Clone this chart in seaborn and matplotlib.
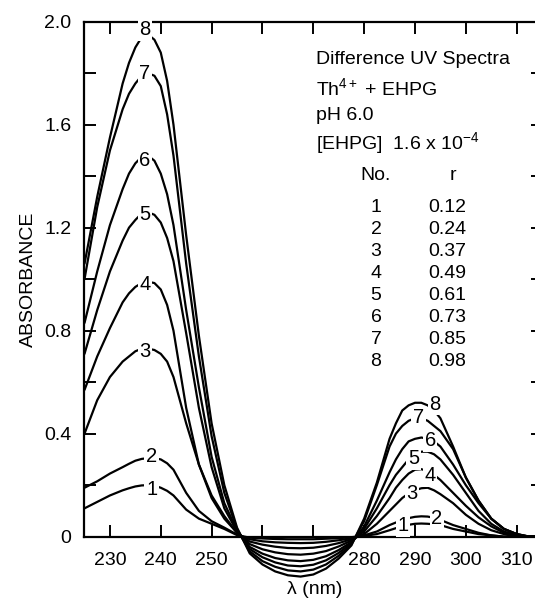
import numpy as np
import pandas as pd
import seaborn as sns
import matplotlib.pyplot as plt
from matplotlib.ticker import FixedLocator, FixedFormatter

# -------------------------------
# Data
# -------------------------------
wavelength = [225, 227.5, 230, 232.5,
              233.75, 235, 236.25, 237.5, 238.75, 240, 241.25, 242.5,
              245, 247.5, 250, 252.5, 255, 257.5, 260, 262.5, 265, 267.5,
              270, 272.5, 275, 277.5, 280, 282.5, 285,
              286.25, 287.5, 288.75, 290, 291.25, 292.5, 293.75, 295,
              297.5, 300, 302.5, 305, 307.5, 310, 312.5, 315]

curve_1 = [0.11, 0.135, 0.16, 0.18,
           0.188, 0.195, 0.199, 0.20, 0.198, 0.19, 0.178, 0.16,
           0.105, 0.07, 0.05, 0.03, 0.006, -0.004, -0.007, -0.009, -0.010, -0.010,
           -0.010, -0.008, -0.006, -0.002, 0.003, 0.01, 0.025,
           0.033, 0.04, 0.046, 0.05, 0.051, 0.05, 0.048, 0.045,
           0.03, 0.02, 0.01, 0.005, 0.0, 0.0, 0.0, 0.0]
curve_2 = [0.19, 0.215, 0.245, 0.27,
           0.283, 0.295, 0.302, 0.305, 0.305, 0.30, 0.285, 0.26,
           0.17, 0.10, 0.06, 0.035, 0.008, -0.010, -0.018, -0.022, -0.024, -0.025,
           -0.024, -0.020, -0.014, -0.006, 0.005, 0.02, 0.045,
           0.055, 0.065, 0.072, 0.077, 0.079, 0.078, 0.073, 0.065,
           0.045, 0.03, 0.015, 0.005, 0.0, 0.0, 0.0, 0.0]
curve_3 = [0.40, 0.53, 0.62, 0.68,
           0.70, 0.72, 0.73, 0.73, 0.725, 0.71, 0.68, 0.62,
           0.44, 0.28, 0.16, 0.08, 0.015, -0.019, -0.031, -0.039, -0.044, -0.045,
           -0.043, -0.036, -0.025, -0.010, 0.01, 0.05, 0.10,
           0.125, 0.15, 0.168, 0.18, 0.188, 0.19, 0.18, 0.165,
           0.13, 0.085, 0.05, 0.025, 0.01, 0.0, 0.0, 0.0]
curve_4 = [0.57, 0.70, 0.81, 0.91,
           0.945, 0.97, 0.985, 0.99, 0.985, 0.96, 0.90, 0.80,
           0.50, 0.28, 0.15, 0.07, 0.015, -0.029, -0.049, -0.061, -0.068, -0.070,
           -0.066, -0.056, -0.038, -0.015, 0.02, 0.08, 0.15,
           0.19, 0.22, 0.245, 0.26, 0.262, 0.255, 0.24, 0.22,
           0.17, 0.12, 0.075, 0.04, 0.015, 0.005, 0.0, 0.0]
curve_5 = [0.71, 0.88, 1.03, 1.15,
           1.20, 1.23, 1.255, 1.26, 1.25, 1.22, 1.16, 1.07,
           0.79, 0.50, 0.27, 0.11, 0.02, -0.040, -0.066, -0.083, -0.092, -0.095,
           -0.090, -0.076, -0.052, -0.021, 0.03, 0.11, 0.20,
           0.24, 0.27, 0.30, 0.32, 0.33, 0.33, 0.32, 0.30,
           0.24, 0.17, 0.10, 0.05, 0.02, 0.005, 0.0, 0.0]
curve_6 = [0.83, 1.03, 1.21, 1.35,
           1.41, 1.45, 1.475, 1.48, 1.46, 1.41, 1.33, 1.21,
           0.88, 0.58, 0.31, 0.13, 0.025, -0.048, -0.080, -0.100, -0.112, -0.115,
           -0.109, -0.092, -0.063, -0.025, 0.04, 0.14, 0.25,
           0.30, 0.34, 0.37, 0.38, 0.385, 0.38, 0.37, 0.35,
           0.28, 0.20, 0.13, 0.07, 0.03, 0.01, 0.0, 0.0]
curve_7 = [1.00, 1.28, 1.50, 1.66,
           1.72, 1.76, 1.79, 1.80, 1.79, 1.75, 1.64, 1.48,
           1.06, 0.70, 0.39, 0.17, 0.03, -0.057, -0.095, -0.117, -0.131, -0.135,
           -0.128, -0.108, -0.074, -0.030, 0.06, 0.20, 0.35,
           0.40, 0.43, 0.45, 0.46, 0.46, 0.45, 0.43, 0.41,
           0.34, 0.23, 0.14, 0.07, 0.03, 0.01, 0.0, 0.0]
curve_8 = [1.06, 1.32, 1.55, 1.76,
           1.84, 1.90, 1.94, 1.95, 1.93, 1.88, 1.77, 1.60,
           1.17, 0.78, 0.44, 0.20, 0.035, -0.065, -0.108, -0.135, -0.150, -0.155,
           -0.147, -0.124, -0.085, -0.034, 0.07, 0.21, 0.38,
           0.44, 0.49, 0.51, 0.52, 0.52, 0.51, 0.49, 0.46,
           0.35, 0.23, 0.14, 0.07, 0.03, 0.01, 0.0, 0.0]

curve_no = ["1", "2", "3", "4", "5", "6", "7", "8"]
ratio_r = ["0.12", "0.24", "0.37", "0.49", "0.61", "0.73", "0.85", "0.98"]

# where the curve numbers sit on each band
label_x_band1 = [238.2, 238.2, 236.9, 236.9, 236.9, 236.9, 236.9, 236.9]
label_y_band1 = [0.185, 0.31, 0.72, 0.98, 1.25, 1.46, 1.80, 1.97]
label_x_band2 = [287.7, 294.3, 289.4, 293.0, 289.7, 293.0, 290.7, 293.9]
label_y_band2 = [0.043, 0.069, 0.166, 0.237, 0.302, 0.373, 0.463, 0.515]

x_ticks = [230, 240, 250, 260, 270, 280, 290, 300, 310]
x_ticklabels = ["230", "240", "250", "", "", "280", "290", "300", "310"]
y_ticks = [0, 0.2, 0.4, 0.6, 0.8, 1.0, 1.2, 1.4, 1.6, 1.8, 2.0]
y_ticklabels = ["0", "", "0.4", "", "0.8", "", "1.2", "", "1.6", "", "2.0"]

curves = [curve_1, curve_2, curve_3, curve_4, curve_5, curve_6, curve_7, curve_8]
df = pd.DataFrame({
    "wavelength": wavelength * len(curves),
    "absorbance": np.concatenate(curves),
    "curve": np.repeat(curve_no, len(wavelength)),
})

# -------------------------------
# Style
# -------------------------------
sns.set_style("ticks")
plt.rcParams["font.family"] = ["Liberation Sans", "DejaVu Sans"]
plt.rcParams["mathtext.fontset"] = "custom"
plt.rcParams["mathtext.rm"] = "Liberation Sans"
plt.rcParams["mathtext.it"] = "Liberation Sans:italic"
plt.rcParams["mathtext.bf"] = "Liberation Sans:bold"
for key in ["text.color", "axes.labelcolor", "axes.edgecolor",
            "xtick.color", "ytick.color"]:
    plt.rcParams[key] = "black"

FS = 14

fig = plt.figure(figsize=(5.35, 6.0), dpi=100)
ax = fig.add_axes([84 / 535, 0.0, 453 / 535, 578.3 / 600])

sns.lineplot(data=df, x="wavelength", y="absorbance", hue="curve",
             palette=["black"] * 8, legend=False, linewidth=1.6,
             estimator=None, ax=ax)

ax.set_xlim(224.9, 314.0)
ax.set_ylim(-0.246, 2.0)

# spines: bottom axis sits at zero, left axis only covers 0..2
ax.spines["bottom"].set_position(("data", 0))
ax.spines["left"].set_bounds(0, 2.0)
ax.spines["right"].set_visible(False)
for s in ["bottom", "left", "top"]:
    ax.spines[s].set_linewidth(1.6)

ax.xaxis.set_major_locator(FixedLocator(x_ticks))
ax.xaxis.set_major_formatter(FixedFormatter(x_ticklabels))
ax.yaxis.set_major_locator(FixedLocator(y_ticks))
ax.yaxis.set_major_formatter(FixedFormatter(y_ticklabels))
ax.tick_params(axis="x", direction="in", length=8.5, width=1.4, top=True,
               labelsize=FS, pad=11)
ax.tick_params(axis="y", direction="in", length=8.5, width=1.4,
               labelsize=FS, pad=9)

sec = ax.secondary_yaxis("right")
sec.set_yticks(y_ticks[1:])
sec.tick_params(direction="in", length=4.5, width=1.4, labelright=False)
sec.spines["right"].set_visible(False)

ax.set_xlabel("λ (nm)", fontsize=FS, va="center")
ax.xaxis.set_label_coords((315 - 84) / 453, 11 / 578.3)
ax.set_ylabel("ABSORBANCE", fontsize=FS, va="center")
ax.yaxis.set_label_coords(-56 / 453, (600 - 279) / 578.3)

# curve numbers, white box cuts a gap in the line
box = dict(boxstyle="square,pad=0.08", fc="white", ec="none")
for i, n in enumerate(curve_no):
    ax.text(label_x_band1[i], label_y_band1[i], n, fontsize=14.5,
            ha="center", va="center", bbox=box, zorder=5)
    ax.text(label_x_band2[i], label_y_band2[i], n, fontsize=14.5,
            ha="center", va="center", bbox=box, zorder=5)

# legend-like text block
def px(x, y):
    return x / 535, 1 - y / 600

fig.text(*px(316, 60), "Difference UV Spectra", fontsize=FS, va="center")
fig.text(*px(316, 88), "Th$^{4+}$ + EHPG", fontsize=FS, va="center")
fig.text(*px(316, 115), "pH 6.0", fontsize=FS, va="center")
fig.text(*px(316, 143), "[EHPG]  1.6 x 10$^{-4}$", fontsize=FS, va="center")
fig.text(*px(376, 175), "No.", fontsize=FS, ha="center", va="center")
fig.text(*px(453, 175), "r", fontsize=FS, ha="center", va="center")
for i in range(len(curve_no)):
    y = 207 + 22.1 * i
    fig.text(*px(376, y), curve_no[i], fontsize=FS, ha="center", va="center")
    fig.text(*px(447, y), ratio_r[i], fontsize=FS, ha="center", va="center")

fig.savefig("out.png", dpi=100)
